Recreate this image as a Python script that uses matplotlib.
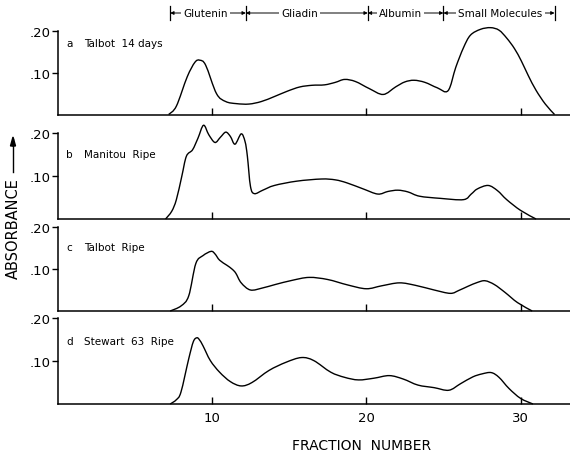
import matplotlib
matplotlib.use("Agg")
import matplotlib.pyplot as plt
from matplotlib import transforms
from matplotlib.path import Path
from matplotlib.patches import PathPatch, FancyArrow

W, H = 570, 452

# fraction number / absorbance
x_a = [7.2, 7.7, 8.4, 8.9, 9.22, 9.6, 10.3, 10.9, 11.6, 12.4, 13.2, 14.05, 14.9, 15.7,
       16.5, 17.3, 18.0, 18.6, 19.3, 20.2, 21.1, 21.9, 22.5, 23.1, 23.8, 24.6, 25.3,
       25.8, 26.3, 26.75, 27.4, 28.05, 28.6, 29.1, 29.6, 30.05, 30.5, 31.0, 31.6, 32.2]
y_a = [0.0, 0.02, 0.09, 0.125, 0.130, 0.118, 0.05, 0.031, 0.026, 0.025, 0.031, 0.043, 0.056, 0.066,
       0.070, 0.071, 0.077, 0.084, 0.079, 0.062, 0.048, 0.066, 0.078, 0.082, 0.077, 0.064, 0.057,
       0.113, 0.160, 0.19, 0.204, 0.208, 0.202, 0.183, 0.158, 0.128, 0.093, 0.058, 0.025, 0.0]

x_b = [7.0, 7.4, 7.7, 8.05, 8.35, 8.75, 9.1, 9.46, 9.8, 10.2, 10.55, 10.9, 11.2, 11.5, 11.9,
       12.15, 12.3, 12.5, 12.75, 13.3, 14.05, 15.5, 17.1, 18.0, 18.75, 19.8, 20.75, 21.4, 22.05,
       22.7, 23.45, 24.8, 26.3, 26.8, 27.2, 27.9, 28.5, 29.1, 30.0, 31.0]
y_b = [0.0, 0.018, 0.045, 0.099, 0.146, 0.161, 0.188, 0.218, 0.196, 0.178, 0.19, 0.202, 0.192, 0.174, 0.198,
       0.18, 0.146, 0.076, 0.059, 0.067, 0.078, 0.088, 0.093, 0.091, 0.084, 0.070, 0.058, 0.064, 0.067,
       0.063, 0.053, 0.048, 0.045, 0.058, 0.07, 0.078, 0.066, 0.045, 0.02, 0.0]

x_c = [7.3, 8.0, 8.5, 8.96, 9.43, 9.95, 10.2, 10.5, 10.97, 11.3, 11.55, 11.9, 12.5, 13.3, 14.1,
       15.2, 16.3, 17.5, 18.8, 20.0, 21.0, 22.15, 23.2, 24.4, 25.45, 26.0, 26.6, 27.2, 27.7,
       28.3, 29.0, 29.8, 30.75]
y_c = [0.0, 0.012, 0.036, 0.113, 0.132, 0.142, 0.136, 0.121, 0.109, 0.1, 0.090, 0.067, 0.050, 0.055, 0.063,
       0.073, 0.080, 0.075, 0.062, 0.053, 0.060, 0.067, 0.061, 0.050, 0.042, 0.049, 0.059, 0.068, 0.072,
       0.063, 0.044, 0.02, 0.0]

x_d = [7.3, 7.7, 8.0, 8.5, 8.8, 9.03, 9.2, 9.43, 9.9, 10.5, 11.2, 11.9, 12.6, 13.7, 14.8,
       15.8, 16.6, 17.7, 18.6, 19.5, 20.5, 21.5, 22.4, 23.35, 24.4, 25.35, 26.1, 26.9, 27.5,
       28.1, 28.6, 29.25, 30.0, 30.8]
y_d = [0.0, 0.01, 0.028, 0.105, 0.145, 0.154, 0.149, 0.135, 0.101, 0.074, 0.052, 0.042, 0.05, 0.078, 0.097,
       0.108, 0.101, 0.074, 0.062, 0.056, 0.060, 0.066, 0.058, 0.044, 0.038, 0.032, 0.047, 0.063, 0.070,
       0.073, 0.062, 0.036, 0.013, 0.0]

traces = [(x_a, y_a), (x_b, y_b), (x_c, y_c), (x_d, y_d)]
letters = ["a", "b", "c", "d"]
names = ["Talbot  14 days", "Manitou  Ripe", "Talbot  Ripe", "Stewart  63  Ripe"]

# header: protein classes along the fraction axis
region_edges = [7.3, 12.2, 20.1, 25.0, 32.2]
region_names = ["Glutenin", "Gliadin", "Albumin", "Small Molecules"]
region_mid = [9.6, 15.7, 22.2, 28.7]

xticks = [10, 20, 30]
yticks = [0.10, 0.20]
ytick_labels = [".10", ".20"]

# panel placement in pixels: (top of .20 tick, baseline)
panels_px = [(32, 115.5), (134, 220), (228, 312), (319, 405)]
label_y_px = [44, 155, 248, 342]


def smooth_path(ax, xs, ys):
    # Catmull-Rom through the read points, drawn as cubic bezier segments in pixel space
    pts = ax.transData.transform(list(zip(xs, ys)))
    verts = [tuple(pts[0])]
    codes = [Path.MOVETO]
    n = len(pts)
    for i in range(n - 1):
        p0 = pts[max(i - 1, 0)]
        p1 = pts[i]
        p2 = pts[i + 1]
        p3 = pts[min(i + 2, n - 1)]
        c1 = p1 + (p2 - p0) / 6.0
        c2 = p2 - (p3 - p1) / 6.0
        verts += [tuple(c1), tuple(c2), tuple(p2)]
        codes += [Path.CURVE4] * 3
    return PathPatch(Path(verts, codes), facecolor="none", edgecolor="black", lw=1.0,
                     transform=None, clip_on=False)


plt.rcParams['font.family'] = ['DejaVu Sans']
fig = plt.figure(figsize=(W / 100, H / 100), dpi=100)

left_px = 57.5
axes = []
for i, (top, base) in enumerate(panels_px):
    ax = fig.add_axes([left_px / W, (H - base) / H, (W - left_px) / W, (base - top) / H])
    ax.patch.set_alpha(0)
    ax.set_xlim(0, 33.2)
    ax.set_ylim(0, 0.2)
    for s in ["top", "right"]:
        ax.spines[s].set_visible(False)
    ax.spines["left"].set_linewidth(1.1)
    ax.spines["bottom"].set_linewidth(1.1)
    ax.set_xticks(xticks)
    ax.tick_params(axis="x", direction="in", length=5, width=1.0, labelsize=9.5, pad=5)
    if i < 3:
        ax.tick_params(axis="x", labelbottom=False)
    ax.set_yticks(yticks)
    ax.set_yticklabels(ytick_labels)
    ax.set_yticks([0.2], minor=True)
    ax.tick_params(axis="y", which="major", direction="out", length=4, width=1.0, labelsize=9.5, pad=1)
    ax.tick_params(axis="y", which="minor", direction="in", length=4, width=1.0)
    fig.text(66 / W, 1 - label_y_px[i] / H, letters[i], fontsize=7.5, va="center")
    fig.text(84 / W, 1 - label_y_px[i] / H, names[i], fontsize=7.5, va="center")
    axes.append(ax)

for i, ax in enumerate(axes):
    x, y = traces[i]
    fig.patches.append(smooth_path(ax, x, y))

# header brackets
trans = transforms.blended_transform_factory(axes[0].transData, fig.transFigure)
hy = 1 - 14 / H
for k in range(len(region_names)):
    axes[0].annotate("", xy=(region_edges[k + 1], hy), xytext=(region_edges[k], hy),
                     xycoords=trans, textcoords=trans,
                     arrowprops=dict(arrowstyle="<|-|>", lw=0.7, color="black",
                                     mutation_scale=5, shrinkA=0, shrinkB=0),
                     annotation_clip=False)
    axes[0].text(region_mid[k], hy, region_names[k], transform=trans, fontsize=7.5,
                 ha="center", va="center",
                 bbox=dict(facecolor="white", edgecolor="none", pad=1.5))
for e in region_edges:
    axes[0].plot([e, e], [hy - 7 / H, hy + 7 / H], transform=trans, color="black",
                 lw=0.9, clip_on=False)

# axis titles
fig.text(13 / W, 1 - 229 / H, "ABSORBANCE", rotation=90, fontsize=10.5, ha="center", va="center")
fig.add_artist(plt.Line2D([13 / W, 13 / W], [1 - 173 / H, 1 - 140 / H], color="black", lw=1.0))
fig.patches.append(FancyArrow(13 / W, 1 - 146 / H, 0, 8 / H, width=0.0005,
                              head_width=5 / W, head_length=9 / H,
                              length_includes_head=True, color="black",
                              transform=fig.transFigure, figure=fig))
fig.text(362 / W, 1 - 446 / H, "FRACTION  NUMBER", fontsize=10, ha="center", va="center")

fig.savefig("out.png", dpi=100)
